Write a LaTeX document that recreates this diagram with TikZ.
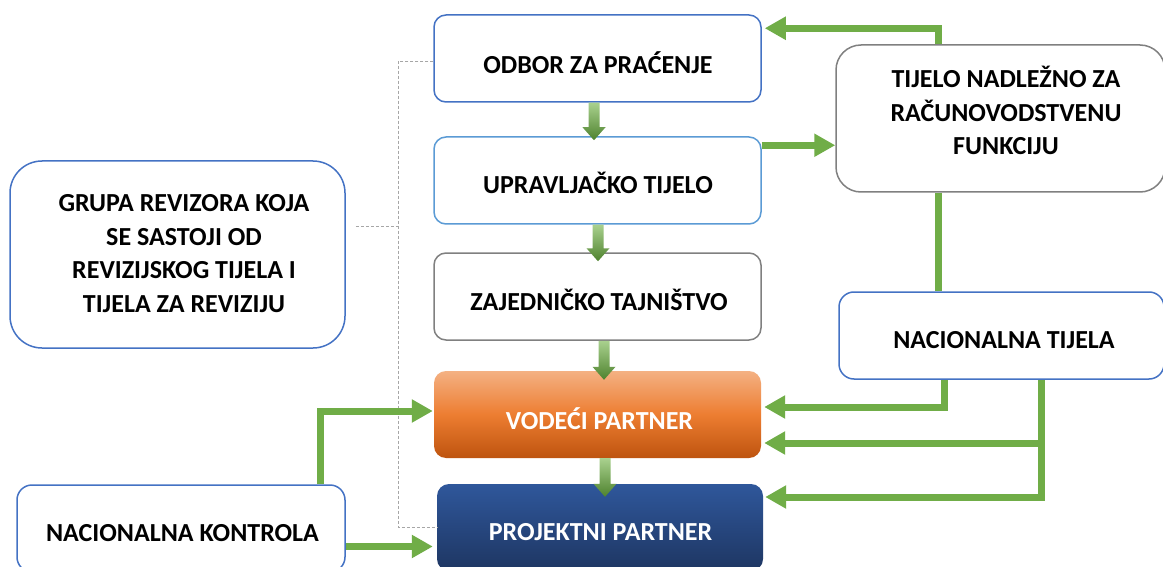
\documentclass[tikz,border=0pt]{standalone}
\usepackage{fontspec}
\setmainfont{Carlito}
\usetikzlibrary{arrows.meta,calc}
\definecolor{garrow}{RGB}{112,173,71}
\definecolor{gtop}{RGB}{169,209,142}
\definecolor{gbot}{RGB}{78,130,46}
\definecolor{blueb}{RGB}{68,114,196}
\definecolor{lightblueb}{RGB}{91,155,213}
\definecolor{grayb}{RGB}{128,128,128}
\definecolor{dashgray}{RGB}{166,166,166}
\definecolor{ortop}{RGB}{244,177,131}
\definecolor{ormid}{RGB}{237,125,49}
\definecolor{orbot}{RGB}{190,84,15}
\definecolor{bltop}{RGB}{47,87,155}
\definecolor{blbot}{RGB}{30,54,98}
\tikzset{
 box/.style={line width=1.5pt, fill=white, inner sep=0pt},
 txt/.style={font=\fontsize{26}{33.5}\selectfont\bfseries, align=center, inner sep=0pt},
 garr/.style={draw=garrow, line width=7pt, -{Triangle[length=21pt,width=22pt]}},
 gline/.style={draw=garrow, line width=7pt},
 dline/.style={draw=dashgray, line width=0.8pt, dash pattern=on 3pt off 2pt},
}
\newcommand\gradarrow[2]{%
 \shade[top color=gtop, bottom color=gbot] let \p1=#1, \p2=#2 in
 (\x1-5.5pt,\y1) -- (\x1+5.5pt,\y1) -- (\x1+5.5pt,\y2+13pt) -- (\x1+11.5pt,\y2+13pt)
 -- (\x1,\y2) -- (\x1-11.5pt,\y2+13pt) -- (\x1-5.5pt,\y2+13pt) -- cycle;}
\begin{document}
\begin{tikzpicture}[x=1pt,y=-1pt]
\useasboundingbox (0,0) rectangle (1163,567);
\clip (0,0) rectangle (1163,567);
\fill[white] (0,0) rectangle (1163,567);
% boxes
\node[box, draw=blueb, minimum width=327pt, minimum height=87pt, rounded corners=12pt] (odbor) at (597.5,58.5) {};
\node[box, draw=lightblueb, minimum width=327pt, minimum height=87pt, rounded corners=12pt] (upr) at (597.5,180.5) {};
\node[box, draw=grayb, minimum width=327pt, minimum height=87pt, rounded corners=12pt] (zaj) at (597.5,296.5) {};
\node[inner sep=0pt, minimum width=327pt, minimum height=87pt, rounded corners=12pt, top color=ortop, bottom color=orbot, middle color=ormid] (vod) at (597.5,414.5) {};
\node[inner sep=0pt, minimum width=326pt, minimum height=87pt, rounded corners=12pt, top color=bltop, bottom color=blbot] (proj) at (600,527.5) {};
\node[box, draw=grayb, minimum width=329pt, minimum height=147pt, rounded corners=25pt] (tijelo) at (1000.5,118.5) {};
\node[box, draw=blueb, minimum width=325pt, minimum height=87pt, rounded corners=15pt] (nact) at (1001.5,335.5) {};
\node[box, draw=blueb, minimum width=335pt, minimum height=187pt, rounded corners=32pt] (grupa) at (177.5,254.5) {};
\node[box, draw=blueb, minimum width=328pt, minimum height=87pt, rounded corners=15pt] (nack) at (181,528.5) {};
% texts
\node[txt] (odbor-t) at (598,63) {ODBOR ZA PRAĆENJE};
\node[txt] (upr-t) at (598,183) {UPRAVLJAČKO TIJELO};
\node[txt] (zaj-t) at (599,300) {ZAJEDNIČKO TAJNIŠTVO};
\node[txt, text=white] (vod-t) at (599.5,419) {VODEĆI PARTNER};
\node[txt, text=white] (proj-t) at (600.5,532) {PROJEKTNI PARTNER};
\node[txt] (tijelo-t) at (1006,110.5) {TIJELO NADLEŽNO ZA\\RAČUNOVODSTVENU\\FUNKCIJU};
\node[txt] (nact-t) at (1004,340) {NACIONALNA TIJELA};
\node[txt] (grupa-t) at (184,253.5) {GRUPA REVIZORA KOJA\\SE SASTOJI OD\\REVIZIJSKOG TIJELA I\\TIJELA ZA REVIZIJU};
\node[txt] (nack-t) at (182.5,533) {NACIONALNA KONTROLA};
% dashed lines
\coordinate (d1) at ([yshift=-2.5pt]odbor.west);
\coordinate (dc) at (398,527);
\coordinate (d2) at ([xshift=10pt,yshift=28.5pt]grupa.east);
\draw[dline] (d1) -| (dc) -- (dc -| proj.west);
\draw[dline] (d2) -- (d2 -| dc);
% green connectors
\draw[garr] ([xshift=-62.5pt]tijelo.north) |- ([xshift=3pt,yshift=-14pt]odbor.north east);
\coordinate (a2) at ([yshift=-9pt]upr.north east);
\draw[garr] (a2) -- (a2 -| tijelo.west);
\coordinate (a3) at ([xshift=-62pt]tijelo.south);
\draw[gline] (a3) -- (a3 |- nact.north);
\coordinate (a4) at ([xshift=-57pt]nact.south);
\coordinate (a4e) at ([xshift=3pt,yshift=7.5pt]vod.east);
\draw[garr] (a4) |- (a4e);
\coordinate (a5) at ([xshift=40pt]nact.south);
\coordinate (a5v) at ([xshift=3pt,yshift=-28.5pt]vod.east);
\coordinate (a5p) at ([xshift=2pt,yshift=30.5pt]proj.east);
\draw[garr] (a5) |- (a5p);
\draw[garr] (a5 |- a5v) -- (a5v);
\coordinate (a6) at ([xshift=139pt]nack.north);
\coordinate (a6v) at ([xshift=-1pt,yshift=3.5pt]vod.west);
\draw[garr] (a6) |- (a6v);
\coordinate (a7) at ([yshift=-18pt]nack.east);
\draw[garr] (a7) -- ([xshift=-4pt]a7 -| proj.west);
% gradient arrows
\gradarrow{([xshift=-3.5pt]odbor.south)}{([xshift=-3.5pt,yshift=-4pt]upr.north)}
\gradarrow{([xshift=0.5pt]upr.south)}{([xshift=0.5pt,yshift=-9pt]zaj.north)}
\gradarrow{([xshift=6.5pt]zaj.south)}{([xshift=6.5pt,yshift=-9pt]vod.north)}
\gradarrow{([xshift=7.5pt]vod.south)}{([xshift=7.5pt,yshift=-13pt]proj.north)}
\end{tikzpicture}
\end{document}
